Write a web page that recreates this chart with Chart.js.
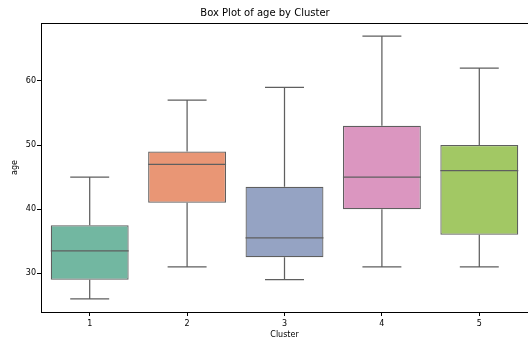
<!DOCTYPE html>
<html>
<head>
<meta charset="utf-8">
<script src="https://cdn.jsdelivr.net/npm/chart.js@4.4.1/dist/chart.umd.min.js"></script>
<style>
  html, body { margin: 0; padding: 0; background: #fff; }
  #wrap { width: 528px; height: 340px; }
</style>
</head>
<body>
<div id="wrap"><canvas id="box-canvas" width="528" height="340"></canvas></div>
<script>
// Box plot of age by cluster, seaborn-style.

const clusters = ['1', '2', '3', '4', '5'];
const whiskerLow = [26, 31, 29, 31, 31];
const q1 = [29, 41, 32.5, 40, 36];
const medians = [33.5, 47, 35.5, 45, 46];
const q3 = [37.5, 49, 43.5, 53, 50];
const whiskerHigh = [45, 57, 59, 67, 62];
const yTicks = [30, 40, 50, 60];

const fills = ['#72b7a1', '#e99675', '#95a3c3', '#db96c0', '#a2c864'];
const lineGray = '#5f5f5f';
const font = 'DejaVu Sans';

const whiskerPlugin = {
  id: 'whiskers',
  afterDatasetsDraw(chart) {
    const { ctx, scales: { x, y } } = chart;
    const meta = chart.getDatasetMeta(0);
    ctx.save();
    ctx.strokeStyle = lineGray;
    ctx.lineWidth = 1.25;
    clusters.forEach((c, i) => {
      const bar = meta.data[i];
      const cx = x.getPixelForValue(i);
      const half = bar.width / 2;
      const cap = half / 2;
      ctx.beginPath();
      // lower whisker + cap
      ctx.moveTo(cx, y.getPixelForValue(q1[i]));
      ctx.lineTo(cx, y.getPixelForValue(whiskerLow[i]));
      ctx.moveTo(cx - cap, y.getPixelForValue(whiskerLow[i]));
      ctx.lineTo(cx + cap, y.getPixelForValue(whiskerLow[i]));
      // upper whisker + cap
      ctx.moveTo(cx, y.getPixelForValue(q3[i]));
      ctx.lineTo(cx, y.getPixelForValue(whiskerHigh[i]));
      ctx.moveTo(cx - cap, y.getPixelForValue(whiskerHigh[i]));
      ctx.lineTo(cx + cap, y.getPixelForValue(whiskerHigh[i]));
      // median
      ctx.moveTo(cx - half, y.getPixelForValue(medians[i]));
      ctx.lineTo(cx + half, y.getPixelForValue(medians[i]));
      ctx.stroke();
    });
    // axes frame (right spine falls just outside the canvas)
    const a = chart.chartArea;
    ctx.strokeStyle = '#000';
    ctx.lineWidth = 1;
    ctx.strokeRect(a.left + 0.5, a.top + 0.5, a.right - a.left, a.bottom - a.top);
    ctx.restore();
  },
};

new Chart(document.getElementById('box-canvas'), {
  type: 'bar',
  data: {
    labels: clusters,
    datasets: [{
      data: clusters.map((c, i) => [q1[i], q3[i]]),
      backgroundColor: fills,
      borderColor: lineGray,
      borderWidth: 1.25,
      borderSkipped: false,
      categoryPercentage: 0.8,
      barPercentage: 1.0,
    }],
  },
  options: {
    responsive: false,
    animation: false,
    layout: { padding: { left: 0, right: -2, top: 0, bottom: 0 } },
    plugins: {
      legend: { display: false },
      tooltip: { enabled: false },
      title: {
        display: true,
        text: 'Box Plot of age by Cluster',
        color: '#000',
        font: { family: font, size: 10, weight: 'normal' },
        padding: { top: 7, bottom: 4 },
      },
    },
    scales: {
      x: {
        offset: true,
        grid: { display: true, drawOnChartArea: false, color: '#000', tickLength: 4, offset: false },
        border: { display: false },
        ticks: { color: '#000', font: { family: font, size: 8 }, padding: 3 },
        title: { display: true, text: 'Cluster', color: '#000', font: { family: font, size: 8 }, padding: { top: 0, bottom: 0 } },
        afterFit: (s) => { s.height = 28; },
      },
      y: {
        min: 23.95,
        max: 69.05,
        afterBuildTicks: (s) => { s.ticks = yTicks.map((v) => ({ value: v })); },
        grid: { display: true, drawOnChartArea: false, color: '#000', tickLength: 4 },
        border: { display: false },
        ticks: { color: '#000', font: { family: font, size: 8 }, padding: 1 },
        title: { display: true, text: 'age', color: '#000', font: { family: font, size: 8 }, padding: { top: 10, bottom: 0 } },
        afterFit: (s) => { s.width = 41; },
      },
    },
  },
  plugins: [whiskerPlugin],
});
</script>
</body>
</html>
